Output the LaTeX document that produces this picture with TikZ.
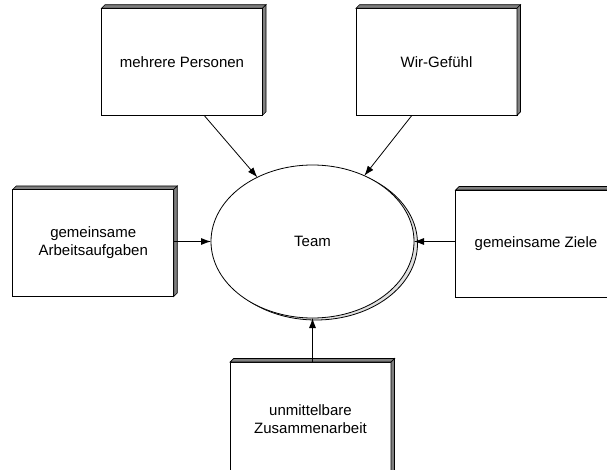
\documentclass[tikz,border=0pt]{standalone}
\usepackage{fontspec}
\setmainfont{Liberation Sans}
\usetikzlibrary{shapes.geometric,arrows.meta,shadows}

\begin{document}
\begin{tikzpicture}[x=1pt,y=-1pt,
  every node/.style={font=\fontsize{15}{18}\selectfont},
  card/.style={draw, fill=white, line width=0.8pt, rectangle, inner sep=0pt, outer sep=0pt,
    minimum width=161pt, minimum height=107pt, align=center},
  face/.style={draw, fill=black!50, line width=0.7pt, line join=miter},
  hub/.style={draw, fill=white, line width=0.8pt, ellipse, inner sep=0pt, outer sep=0pt,
    minimum width=203pt, minimum height=153pt,
    general shadow={shadow xshift=3.5pt, shadow yshift=-2pt, fill=black!12, draw=black, line width=0.8pt}},
  arr/.style={-{Latex[length=10pt,width=7pt]}, line width=0.8pt}
]
\useasboundingbox (0,0) rectangle (607,470);
\clip (0,0) rectangle (607,470);

% central ellipse
\node[hub] (team) at (312.5,241.5) {Team};

% surrounding cards
\node[card] (p) at (182,61.75) {mehrere Personen};
\node[card] (w) at (436.5,61.75) {Wir-Gefühl};
\node[card] (a) at (93.25,243) {gemeinsame\\Arbeitsaufgaben};
\node[card] (z) at (536,243.5) {gemeinsame Ziele};
\node[card, minimum height=114pt] (u) at (310.5,419) {unmittelbare\\Zusammenarbeit};

% raised edges (top and right faces) of each card
\foreach \n in {p,w,a,z,u}{
  \draw[face] (\n.north west) -- ++(3.5,-3.5) -- ([shift={(3.5,-3.5)}]\n.north east) -- (\n.north east) -- cycle;
  \draw[face] (\n.north east) -- ++(3.5,-3.5) -- ([shift={(3.5,-3.5)}]\n.south east) -- (\n.south east) -- cycle;
}

% connectors into the ellipse
\draw[arr] ([xshift=22pt]p.south) -- (team);
\draw[arr] ([xshift=-24.5pt]w.south) -- (team);
\draw[arr] (a.east |- team.west) -- (team.west);
\draw[arr] (z.west |- team.east) -- (team.east);
\draw[arr] (u.north -| team.south) -- (team.south);
\end{tikzpicture}
\end{document}
